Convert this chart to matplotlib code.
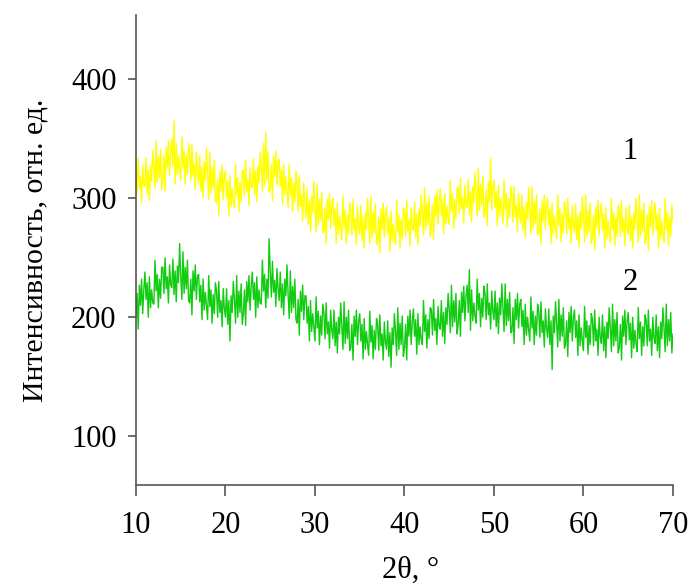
import numpy as np
import matplotlib.pyplot as plt

plt.rcParams['font.family'] = ['Liberation Serif', 'DejaVu Serif']

# шаг 0.125 градуса, от 10 до 70 (по 8 точек на градус)
two_theta = np.arange(10, 70.001, 0.125)

# образец 1
int_1 = [
    326, 304, 334, 308, 318, 296, 328, 311,   # 10
    310, 334, 304, 324, 298, 328, 314, 340,
    328, 308, 348, 313, 335, 317, 341, 307,
    316, 336, 306, 343, 326, 348, 319, 339,
    350, 327, 365, 312, 346, 320, 335, 324,
    315, 352, 326, 340, 312, 336, 320, 346,   # 15
    337, 315, 345, 319, 329, 307, 339, 322,
    312, 336, 306, 326, 300, 330, 316, 342,
    319, 299, 339, 304, 326, 308, 332, 298,
    296, 316, 286, 323, 306, 328, 299, 319,
    323, 300, 314, 285, 319, 293, 308, 297,   # 20
    292, 329, 303, 317, 289, 313, 297, 323,
    324, 302, 332, 306, 316, 294, 326, 309,
    309, 333, 303, 323, 297, 327, 313, 339,
    326, 306, 346, 311, 356, 315, 339, 305,
    308, 328, 298, 335, 318, 340, 311, 331,   # 25
    333, 310, 324, 295, 329, 303, 318, 307,
    292, 329, 303, 317, 289, 313, 297, 323,
    311, 289, 319, 293, 303, 281, 313, 296,
    284, 308, 278, 298, 272, 302, 288, 314,
    292, 272, 312, 277, 299, 281, 305, 271,   # 30
    272, 292, 262, 299, 282, 304, 275, 295,
    300, 277, 291, 262, 296, 270, 285, 274,
    265, 302, 276, 290, 262, 286, 270, 296,
    291, 269, 299, 273, 283, 261, 293, 276,
    270, 294, 264, 284, 258, 288, 274, 300,   # 35
    282, 262, 302, 267, 289, 271, 295, 261,
    264, 284, 254, 291, 274, 296, 267, 287,
    293, 270, 284, 255, 289, 263, 278, 267,
    261, 298, 272, 286, 258, 282, 266, 292,
    290, 268, 298, 272, 282, 260, 292, 275,   # 40
    273, 297, 267, 287, 261, 291, 277, 303,
    289, 269, 309, 274, 296, 278, 302, 268,
    275, 295, 265, 302, 285, 307, 278, 298,
    308, 285, 299, 270, 304, 278, 293, 282,
    278, 315, 289, 303, 275, 299, 283, 309,   # 45
    309, 287, 317, 291, 301, 279, 311, 294,
    292, 316, 286, 306, 280, 310, 296, 322,
    305, 285, 325, 290, 312, 294, 318, 284,
    287, 307, 277, 314, 297, 334, 290, 310,
    315, 292, 306, 277, 311, 285, 300, 289,   # 50
    279, 316, 290, 304, 276, 300, 284, 310,
    302, 280, 310, 284, 294, 272, 304, 287,
    279, 303, 273, 293, 267, 297, 283, 309,
    290, 270, 310, 275, 297, 279, 303, 269,
    271, 291, 261, 298, 281, 303, 274, 294,   # 55
    300, 277, 291, 262, 296, 270, 285, 274,
    266, 303, 277, 291, 263, 287, 271, 297,
    292, 270, 300, 274, 284, 262, 294, 277,
    271, 295, 265, 285, 259, 289, 275, 301,
    283, 263, 303, 268, 290, 272, 296, 262,   # 60
    266, 286, 256, 293, 276, 298, 269, 289,
    296, 273, 287, 258, 292, 266, 281, 270,
    263, 300, 274, 288, 260, 284, 268, 294,
    290, 268, 298, 272, 282, 260, 292, 275,
    270, 294, 264, 284, 258, 288, 274, 300,   # 65
    283, 263, 303, 268, 290, 272, 296, 262,
    266, 286, 256, 293, 276, 298, 269, 289,
    296, 273, 287, 258, 292, 266, 281, 270,
    263, 300, 274, 288, 260, 284, 268, 294,
    280,                                      # 70
]

# образец 2
int_2 = [
    200, 220, 190, 227, 210, 232, 203, 223,   # 10
    238, 215, 229, 200, 234, 208, 223, 212,
    211, 248, 222, 236, 208, 232, 216, 242,
    242, 220, 250, 224, 234, 212, 244, 227,
    225, 249, 219, 239, 213, 243, 229, 262,
    235, 215, 255, 220, 242, 224, 248, 214,   # 15
    212, 232, 202, 239, 222, 244, 215, 235,
    236, 213, 227, 198, 232, 206, 221, 210,
    198, 235, 209, 223, 195, 219, 203, 229,
    222, 200, 230, 204, 214, 192, 224, 207,
    200, 224, 194, 214, 180, 218, 204, 230,   # 20
    215, 195, 235, 200, 222, 204, 228, 194,
    203, 223, 193, 230, 213, 235, 206, 226,
    238, 215, 229, 200, 234, 208, 223, 212,
    211, 248, 222, 236, 208, 232, 216, 266,
    239, 217, 247, 221, 231, 209, 241, 224,   # 25
    214, 238, 208, 228, 202, 232, 218, 244,
    219, 199, 239, 204, 226, 208, 232, 198,
    195, 215, 185, 222, 205, 227, 198, 218,
    218, 195, 209, 180, 214, 188, 203, 192,
    180, 217, 191, 205, 177, 201, 185, 211,   # 30
    204, 182, 212, 186, 196, 174, 206, 189,
    182, 206, 176, 196, 170, 200, 186, 212,
    193, 173, 213, 178, 200, 182, 206, 172,
    174, 194, 164, 201, 184, 206, 177, 197,
    203, 180, 194, 165, 199, 173, 188, 177,   # 35
    168, 205, 179, 193, 165, 189, 173, 199,
    194, 172, 202, 176, 186, 164, 196, 179,
    173, 197, 167, 187, 158, 191, 177, 203,
    188, 168, 208, 173, 195, 177, 201, 167,
    174, 194, 164, 201, 184, 206, 177, 197,   # 40
    207, 184, 198, 169, 203, 177, 192, 181,
    177, 214, 188, 202, 174, 198, 182, 208,
    207, 185, 215, 189, 199, 177, 209, 192,
    190, 214, 184, 204, 178, 208, 194, 220,
    207, 187, 227, 192, 214, 196, 220, 186,   # 45
    194, 214, 184, 221, 204, 226, 197, 217,
    227, 204, 240, 189, 223, 197, 212, 201,
    195, 232, 206, 220, 192, 216, 200, 226,
    220, 198, 228, 202, 212, 190, 222, 205,
    198, 222, 192, 212, 186, 216, 202, 228,   # 50
    208, 188, 228, 193, 215, 197, 221, 187,
    188, 208, 178, 215, 198, 220, 191, 211,
    215, 192, 206, 177, 211, 185, 200, 189,
    180, 217, 191, 205, 177, 201, 185, 211,
    205, 183, 213, 187, 197, 175, 207, 190,   # 55
    183, 207, 177, 197, 156, 201, 187, 213,
    195, 175, 215, 180, 202, 184, 208, 174,
    177, 197, 167, 204, 187, 209, 180, 200,
    206, 183, 197, 168, 202, 176, 191, 180,
    172, 209, 183, 197, 169, 193, 177, 203,   # 60
    198, 176, 206, 180, 190, 168, 200, 183,
    178, 202, 172, 192, 166, 196, 182, 208,
    191, 171, 211, 176, 198, 180, 204, 170,
    174, 194, 164, 201, 184, 206, 177, 197,
    204, 181, 195, 166, 200, 174, 189, 178,   # 65
    171, 208, 182, 196, 168, 192, 176, 202,
    198, 176, 206, 180, 190, 168, 200, 183,
    178, 202, 172, 192, 166, 196, 182, 208,
    191, 171, 211, 176, 198, 180, 204, 170,
    186,                                      # 70
]

fig = plt.figure(figsize=(6.92, 5.85), dpi=100)
ax = fig.add_axes([0.1965, 0.1709, 0.776, 0.8035])

ax.plot(two_theta, int_1, color='#ffff00', lw=1.0)
ax.plot(two_theta, int_2, color='#11cc11', lw=1.0)

ax.text(65.2, 339, '1', fontsize=22, ha='center', va='center')
ax.text(65.2, 229, '2', fontsize=22, ha='center', va='center')

ax.set_xlim(10, 70)
ax.set_ylim(59, 454)
ax.set_xticks([10, 20, 30, 40, 50, 60, 70])
ax.set_yticks([100, 200, 300, 400])

for s in ['top', 'right']:
    ax.spines[s].set_visible(False)
for s in ['left', 'bottom']:
    ax.spines[s].set_color('#555555')
    ax.spines[s].set_linewidth(1.2)

ax.tick_params(axis='both', colors='#555555', labelcolor='black', labelsize=22, width=1.2)
ax.tick_params(axis='x', length=8, pad=11)
ax.tick_params(axis='y', length=6, pad=8)

ax.set_ylabel('Интенсивность, отн. ед.', fontsize=21.5, labelpad=16)
fig.text(411 / 692, 1 - 570 / 585, '2θ, °', fontsize=22, ha='center', va='center')

fig.savefig('out.png', dpi=100)
